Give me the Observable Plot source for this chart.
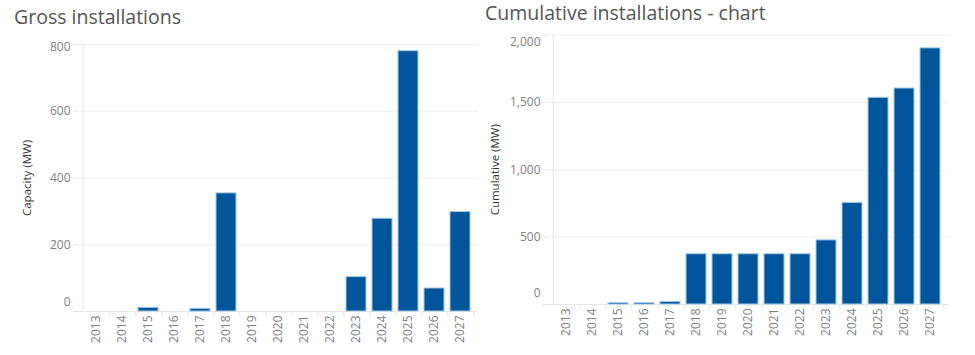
<!DOCTYPE html>
<html><head><meta charset="utf-8">
<script src="https://cdn.jsdelivr.net/npm/d3@7"></script>
<script src="https://cdn.jsdelivr.net/npm/@observablehq/plot@0.6"></script>
<style>
html,body{margin:0;padding:0;background:#fff}
body{width:975px;height:355px;overflow:hidden;position:relative;font-family:"Open Sans",sans-serif}
.title{position:absolute;font-size:19.5px;color:#555;white-space:nowrap;line-height:1}
.chart{position:absolute}
.chart svg{display:block}
</style></head><body>
<div class="title" style="left:14px;top:7px">Gross installations</div>
<div class="title" style="left:485px;top:3px">Cumulative installations - chart</div>
<div id="left" class="chart" style="left:0;top:30px"></div>
<div id="right" class="chart" style="left:480px;top:30px"></div>
<script>
const years = ["2013","2014","2015","2016","2017","2018","2019","2020","2021","2022","2023","2024","2025","2026","2027"];
const gross = [0,0,11,0,8,354,0,0,0,0,103,278,780,69,298];
const cumulative = [0,0,11,11,19,373,373,373,373,373,476,754,1534,1603,1901];
const grossTicks = [0,200,400,600,800];
const cumTicks = [0,500,1000,1500,2000];
const grossTitle = "Capacity (MW)";
const cumTitle = "Cumulative (MW)";

function chart(o) {
  const data = years.map((y,i)=>({year:y, v:o.values[i]})).filter(d=>d.v>0);
  const step = (o.width - o.ml - o.mr) / years.length;
  const fmt = d3.format(",");
  const ticks = o.ticks;
  const mid = ticks.slice(1,-1), lo = [ticks[0]], hi = [ticks[ticks.length-1]];
  const lab = (arr, dy) => Plot.text(arr, {y:d=>d, text:d=>fmt(d), frameAnchor:"left", dx:-7, dy, textAnchor:"end", fill:"#808080", fontSize:12});
  return Plot.plot({
    width:o.width, height:o.height,
    marginTop:o.mt, marginBottom:o.mb, marginLeft:o.ml, marginRight:o.mr,
    style:{fontFamily:'"Open Sans",sans-serif', fontSize:"12px", background:"transparent", color:"#808080"},
    x:{domain:years, paddingInner:0.25, paddingOuter:0.125, label:null},
    y:{domain:[ticks[0], ticks[ticks.length-1]], label:null},
    marks:[
      Plot.gridY(ticks, {stroke:"#efefef", strokeOpacity:1}),
      Plot.axisY(ticks, {tickSize:4, tickFormat:()=>"", label:null, stroke:"#e4e4e4", strokeOpacity:1}),
      Plot.ruleX(years.slice(0,1), {x:d=>d, dx:-step/2, y1:ticks[0], y2:ticks[ticks.length-1], stroke:"#e6e6e6"}),
      Plot.ruleX(years, {x:d=>d, dx:step/2, y1:ticks[0], y2:ticks[0], insetBottom:-6, stroke:"#e6e6e6"}),
      Plot.ruleY([ticks[0]], {stroke:"#e6e6e6"}),
      lab(mid, 0), lab(lo, o.dyLo), lab(hi, o.dyHi),
      Plot.axisX({tickRotate:-90, tickSize:0, tickPadding:4, fill:"#808080", fontSize:12, label:null}),
      Plot.barY(data, {x:"year", y:"v", fill:"#02559a", stroke:"#a3c9ea", strokeWidth:1}),
      Plot.text([o.title], {text:d=>d, frameAnchor:"left", dx:-o.titleDx, rotate:-90, fill:"#333", fontSize:11.5, textAnchor:"middle"})
    ]
  });
}

document.getElementById("left").appendChild(chart({
  values:gross, ticks:grossTicks, width:487, height:325,
  mt:14, mb:44, ml:77, mr:9, dyLo:-9, dyHi:3, title:grossTitle, titleDx:50
}));
document.getElementById("right").appendChild(chart({
  values:cumulative, ticks:cumTicks, width:495, height:325,
  mt:4.5, mb:51, ml:67, mr:27, dyLo:-11, dyHi:7, title:cumTitle, titleDx:52
}));
</script>
</body></html>
